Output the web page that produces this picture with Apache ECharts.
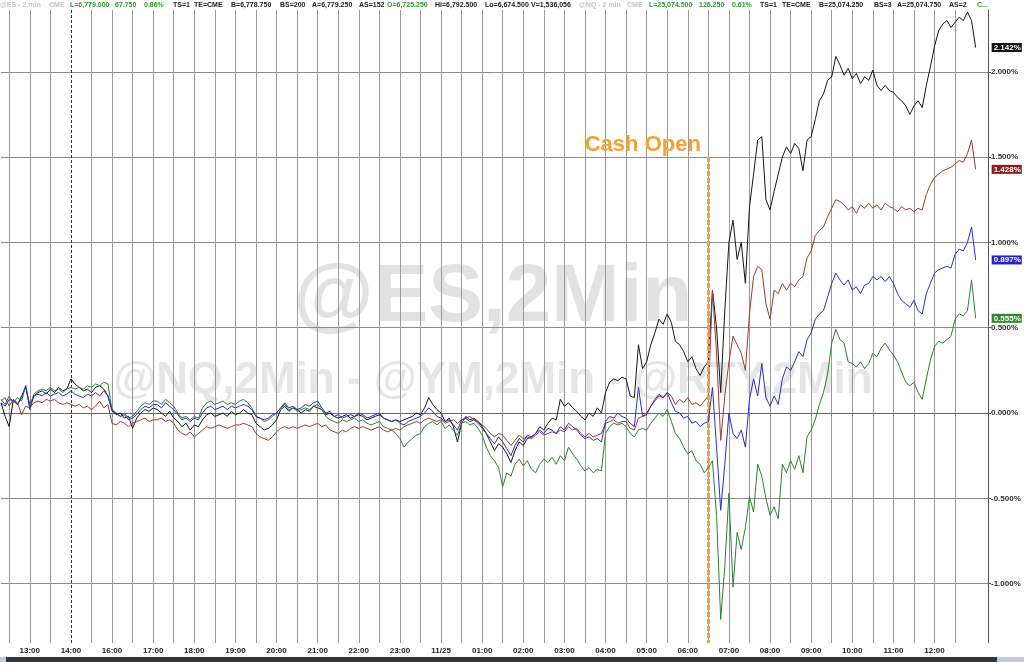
<!DOCTYPE html>
<html><head><meta charset="utf-8">
<script src="https://cdn.jsdelivr.net/npm/echarts@6/dist/echarts.min.js"></script>
<style>html,body{margin:0;padding:0;background:#fff}#c{width:1024px;height:662px}</style>
</head><body><div id="c"></div><script>
// ---- time categories (6-minute steps, session break 14:00-15:00 removed) ----
const sessions = [['11/24','12:18','14:00'],['11/24','15:06','23:54'],['11/25','00:00','13:18']];
const STEP_MIN = 6;
function toMin(t){const p=t.split(':').map(Number);return p[0]*60+p[1];}
function fmt(m){return String(Math.floor(m/60)).padStart(2,'0')+':'+String(m%60).padStart(2,'0');}
const categories = [];
sessions.forEach(([d,s,e])=>{for(let m=toMin(s);m<=toMin(e);m+=STEP_MIN) categories.push(d+' '+fmt(m));});

// ---- tick labels ----
const xTickCats = ['11/24 13:00','11/24 14:00','11/24 16:00','11/24 17:00','11/24 18:00','11/24 19:00','11/24 20:00','11/24 21:00','11/24 22:00','11/24 23:00','11/25 00:00','11/25 01:00','11/25 02:00','11/25 03:00','11/25 04:00','11/25 05:00','11/25 06:00','11/25 07:00','11/25 08:00','11/25 09:00','11/25 10:00','11/25 11:00','11/25 12:00'];
const xTickText = ['13:00','14:00','16:00','17:00','18:00','19:00','20:00','21:00','22:00','23:00','11/25','01:00','02:00','03:00','04:00','05:00','06:00','07:00','08:00','09:00','10:00','11:00','12:00'];
const breakCat = '11/24 14:00';
const gridEndCat = '11/25 12:30';
const cashOpenCat = '11/25 06:30';
const cashOpenTop = 1.5;

// ---- series values (% change) ----
const nqValues = [
0.06,-0.02,-0.08,0.08,0.05,0.1,0.15,0.05,0.1,0.12,0.13,0.11,0.14,0.12,0.15,0.13,0.14,0.2,
0.17,0.15,0.13,0.14,0.12,0.15,0.16,0.14,0.1,0.02,-0.01,0.0,-0.03,-0.02,-0.09,-0.03,0.0,0.02,0.01,0.03,
0.02,0.0,-0.02,0.01,-0.03,-0.05,-0.08,-0.06,-0.1,-0.07,-0.08,-0.04,-0.01,0.0,-0.02,-0.01,0.0,-0.02,0.01,-0.01,
0.0,0.02,0.0,-0.01,-0.06,-0.08,-0.1,-0.09,-0.07,-0.04,0.02,0.04,0.01,0.03,0.02,0.0,0.02,0.01,0.04,0.03,
0.02,-0.01,0.0,-0.02,-0.03,-0.02,-0.01,-0.03,-0.02,-0.01,-0.02,-0.04,-0.03,-0.02,-0.01,-0.03,-0.04,-0.05,-0.04,-0.05,
-0.04,-0.03,-0.02,0.0,-0.01,0.03,0.09,0.05,0.02,0.0,-0.05,-0.03,-0.08,-0.17,-0.06,-0.02,-0.04,-0.03,-0.05,-0.08,
-0.12,-0.17,-0.22,-0.18,-0.2,-0.24,-0.29,-0.22,-0.17,-0.19,-0.15,-0.14,-0.12,-0.08,-0.1,-0.06,-0.03,-0.04,0.08,0.04,
0.06,0.03,0.01,-0.02,-0.04,0.0,-0.02,0.03,0.0,0.12,0.18,0.2,0.19,0.21,0.2,0.1,0.09,0.4,0.26,0.3,
0.4,0.47,0.55,0.52,0.58,0.53,0.42,0.4,0.36,0.3,0.33,0.26,0.22,0.27,
0.3,0.72,0.5,0.12,0.6,1.0,1.13,0.9,1.0,0.76,1.21,1.4,1.6,1.62,1.25,1.19,1.3,1.4,1.5,1.56,
1.52,1.58,1.55,1.42,1.6,1.62,1.72,1.83,1.87,1.95,1.97,2.09,2.04,1.98,2.02,1.96,1.99,1.93,1.97,1.95,
2.01,1.92,1.89,1.92,1.89,1.88,1.85,1.83,1.8,1.75,1.8,1.83,1.79,1.92,2.03,2.15,2.24,2.28,2.3,2.26,
2.29,2.32,2.3,2.35,2.3,2.142];
const esValues = [
0.07,0.09,0.04,0.08,0.06,-0.01,0.04,0.03,0.06,0.07,0.06,0.08,0.07,0.08,0.06,0.05,0.06,0.05,
0.04,0.05,0.03,0.04,0.02,0.04,0.07,0.03,0.05,-0.06,-0.07,-0.05,-0.06,-0.08,-0.06,-0.05,-0.04,-0.03,-0.05,-0.04,
-0.04,-0.03,-0.05,-0.04,-0.06,-0.1,-0.12,-0.13,-0.11,-0.14,-0.12,-0.1,-0.08,-0.09,-0.08,-0.07,-0.08,-0.09,-0.08,-0.07,
-0.07,-0.06,-0.07,-0.08,-0.12,-0.14,-0.15,-0.16,-0.14,-0.11,-0.09,-0.08,-0.09,-0.08,-0.09,-0.08,-0.07,-0.08,-0.07,-0.06,
-0.08,-0.07,-0.1,-0.11,-0.12,-0.1,-0.11,-0.09,-0.08,-0.09,-0.08,-0.09,-0.1,-0.09,-0.08,-0.1,-0.11,-0.1,-0.09,-0.1,
-0.08,-0.07,-0.06,-0.05,-0.06,-0.04,-0.03,-0.04,-0.05,-0.04,-0.06,-0.05,-0.04,-0.06,-0.04,-0.03,-0.02,-0.04,-0.05,-0.07,
-0.09,-0.12,-0.14,-0.12,-0.13,-0.16,-0.19,-0.16,-0.13,-0.15,-0.14,-0.15,-0.13,-0.11,-0.13,-0.12,-0.11,-0.12,-0.1,-0.11,
-0.08,-0.1,-0.09,-0.12,-0.14,-0.12,-0.14,-0.13,-0.12,-0.06,-0.05,-0.04,-0.06,-0.05,-0.05,-0.09,-0.1,-0.03,-0.02,0.0,
0.04,0.07,0.1,0.09,0.12,0.1,0.05,0.08,0.06,0.09,0.05,0.06,0.04,0.07,
0.1,0.72,0.35,-0.16,0.1,0.3,0.45,0.4,0.35,0.25,0.58,0.8,0.86,0.84,0.64,0.55,0.72,0.7,0.76,0.72,
0.76,0.74,0.78,0.8,0.91,0.95,1.04,1.07,1.09,1.15,1.2,1.25,1.24,1.22,1.19,1.21,1.17,1.22,1.2,1.23,
1.2,1.22,1.19,1.23,1.21,1.2,1.18,1.21,1.19,1.2,1.18,1.2,1.19,1.28,1.34,1.38,1.4,1.42,1.43,1.44,
1.46,1.48,1.47,1.52,1.6,1.428];
const ymValues = [
0.06,0.04,0.08,0.07,0.05,0.09,0.16,0.02,0.1,0.11,0.1,0.12,0.1,0.11,0.12,0.1,0.11,0.13,
0.11,0.1,0.09,0.11,0.1,0.12,0.1,0.13,0.1,0.01,0.0,-0.02,-0.01,-0.04,-0.03,-0.01,0.02,0.04,0.03,0.05,
0.05,0.03,0.06,0.04,0.02,-0.01,-0.04,-0.03,-0.05,-0.03,-0.04,0.0,0.03,0.04,0.02,0.03,0.04,0.02,0.04,0.03,
0.04,0.05,0.04,0.02,-0.02,-0.03,-0.04,-0.03,-0.01,0.0,0.03,0.06,0.03,0.04,0.02,0.03,0.05,0.04,0.06,0.07,
0.03,0.0,0.01,-0.02,-0.01,-0.03,-0.02,-0.01,-0.02,0.0,-0.01,-0.03,-0.02,-0.01,0.0,-0.03,-0.04,-0.05,-0.04,-0.06,
-0.07,-0.05,-0.04,-0.03,-0.02,0.0,0.03,0.01,-0.02,-0.03,-0.05,-0.04,-0.07,-0.1,-0.04,-0.03,-0.05,-0.04,-0.06,-0.09,
-0.12,-0.15,-0.18,-0.14,-0.17,-0.21,-0.25,-0.19,-0.15,-0.17,-0.13,-0.14,-0.12,-0.1,-0.12,-0.09,-0.1,-0.12,-0.08,-0.1,
-0.06,-0.08,-0.1,-0.13,-0.15,-0.14,-0.16,-0.15,-0.17,-0.05,-0.02,-0.03,0.0,-0.02,-0.03,-0.06,-0.08,0.15,-0.02,-0.01,
0.04,0.08,0.11,0.09,0.12,0.06,0.01,0.0,-0.03,-0.02,-0.06,-0.05,-0.08,-0.06,
-0.05,0.15,-0.2,-0.57,-0.3,0.0,-0.12,-0.15,-0.1,-0.2,0.08,0.2,0.1,0.29,0.09,0.04,0.1,0.05,0.2,0.27,
0.25,0.3,0.36,0.33,0.43,0.47,0.55,0.58,0.6,0.68,0.76,0.82,0.78,0.75,0.78,0.72,0.74,0.7,0.75,0.76,
0.8,0.78,0.8,0.77,0.8,0.76,0.7,0.66,0.64,0.62,0.66,0.6,0.58,0.7,0.76,0.82,0.84,0.85,0.86,0.85,
0.93,0.96,0.95,1.0,1.09,0.897];
const rtyValues = [
0.08,0.05,0.1,0.06,0.09,0.07,0.16,0.04,0.11,0.13,0.14,0.13,0.15,0.13,0.14,0.12,0.14,0.15,
0.14,0.15,0.14,0.16,0.15,0.17,0.16,0.18,0.17,0.02,0.0,-0.02,0.0,-0.03,-0.02,0.01,0.04,0.06,0.05,0.07,
0.07,0.05,0.08,0.06,0.04,0.0,-0.03,-0.02,-0.04,-0.02,-0.03,0.03,0.06,0.07,0.05,0.06,0.07,0.05,0.06,0.05,
0.07,0.08,0.06,0.03,-0.02,-0.03,-0.05,-0.04,-0.02,0.0,0.03,0.05,0.02,0.03,0.01,0.02,0.03,0.02,0.04,0.05,
0.02,-0.02,-0.04,-0.05,-0.06,-0.04,-0.05,-0.04,-0.03,-0.05,-0.04,-0.06,-0.07,-0.06,-0.05,-0.08,-0.09,-0.1,-0.12,-0.15,
-0.2,-0.17,-0.15,-0.13,-0.12,-0.08,-0.06,-0.05,-0.07,-0.05,-0.09,-0.07,-0.1,-0.13,-0.06,-0.05,-0.07,-0.06,-0.09,-0.13,
-0.2,-0.25,-0.28,-0.32,-0.43,-0.35,-0.37,-0.3,-0.27,-0.31,-0.28,-0.33,-0.35,-0.3,-0.27,-0.29,-0.26,-0.3,-0.25,-0.28,
-0.2,-0.24,-0.27,-0.31,-0.34,-0.32,-0.35,-0.33,-0.34,-0.12,-0.08,-0.06,-0.07,-0.06,-0.08,-0.12,-0.14,-0.1,-0.09,-0.1,
-0.06,-0.03,0.0,-0.02,0.02,-0.05,-0.12,-0.15,-0.2,-0.24,-0.22,-0.28,-0.3,-0.35,
-0.32,-0.28,-0.6,-1.21,-0.9,-0.47,-1.02,-0.7,-0.8,-0.67,-0.49,-0.58,-0.3,-0.37,-0.5,-0.6,-0.55,-0.62,-0.3,-0.35,
-0.28,-0.33,-0.25,-0.35,-0.14,-0.1,-0.04,0.05,0.12,0.23,0.41,0.49,0.43,0.41,0.3,0.29,0.27,0.3,0.26,0.29,
0.35,0.33,0.38,0.41,0.37,0.34,0.3,0.24,0.18,0.16,0.18,0.12,0.08,0.2,0.31,0.39,0.42,0.41,0.43,0.45,
0.55,0.58,0.57,0.6,0.78,0.555];

const Y_MIN = -1.348, Y_MAX = 2.362;
const FONT = '"Liberation Sans", Arial, sans-serif';

// ---- header ----
const headerItems = [
 ['@ES - 2 min','#c4c4c4'],['CME','#c4c4c4'],['L=6,779.000','#2f9a2f'],['67.750','#2f9a2f'],['0.86%','#2f9a2f'],
 ['TS=1','#222'],['TE=CME','#222'],['B=6,778.750','#222'],['BS=200','#222'],['A=6,779.250','#222'],['AS=152','#222'],
 ['O=6,725.250','#2f9a2f'],['Hi=6,792.500','#222'],['Lo=6,674.500','#222'],['V=1,536,056','#222'],
 ['@NQ - 2 min','#c4c4c4'],['CME','#c4c4c4'],['L=25,074.500','#2f9a2f'],['126.250','#2f9a2f'],['0.61%','#2f9a2f'],
 ['TS=1','#222'],['TE=CME','#222'],['B=25,074.250','#222'],['BS=3','#222'],['A=25,074.750','#222'],['AS=2','#222'],['C...','#2f9a2f']];
const headerX = [0,49,70,115,144,173,194,231,280,312,359,387,435,485,531,579,627,649,699,732,760,782,819,874,897,949,977];

const gridIdxMax = categories.indexOf(gridEndCat);
const isGrid = (i, v) => i <= gridIdxMax && /:(00|30)$/.test(v) && v !== breakCat;

const seriesDefs = [
  {name:'NQ', data:nqValues, color:'#161616', box:'#111111'},
  {name:'ES', data:esValues, color:'#9e3a32', box:'#8e1d1d'},
  {name:'RTY', data:rtyValues, color:'#2f7f34', box:'#2e8a2e'},
  {name:'YM', data:ymValues, color:'#2d2dc4', box:'#2424cc'}
];

const series = seriesDefs.map((s, k) => ({
  name: s.name, type:'line', data: s.data, showSymbol:false, symbol:'none',
  lineStyle:{color:s.color, width:1}, itemStyle:{color:s.color},
  silent:true, z: 3 + k,
  endLabel:{show:true, formatter: p => Number(Array.isArray(p.value)?p.value[1]:p.value).toFixed(3)+'%',
    backgroundColor:s.box, color:'#fff', fontSize:8, fontWeight:'bold', fontFamily:FONT,
    padding:[1,1,0,2], lineHeight:8, offset:[8,0]}
}));
series[0].markLine = {silent:true, symbol:['none','none'], label:{show:false}, animation:false,
  lineStyle:{type:[3,2], color:'#333', width:1}, data:[{xAxis:breakCat}]};
series[3].markLine = {silent:true, symbol:['none','none'], label:{show:false}, animation:false,
  lineStyle:{type:[5,2], color:'#F5A232', width:3},
  data:[[{xAxis:cashOpenCat, yAxis:cashOpenTop},{xAxis:cashOpenCat, yAxis:Y_MIN}]]};
series[3].markPoint = {silent:true, animation:false, symbol:'rect', symbolSize:1,
  itemStyle:{color:'rgba(0,0,0,0)'},
  label:{show:true, position:'left', distance:7, offset:[0,-12], formatter:'Cash Open',
    color:'#F5A232', fontSize:22, fontWeight:'bold', fontFamily:FONT},
  data:[{coord:[cashOpenCat, cashOpenTop]}]};

const graphic = [
  {type:'text', x:493, y:298, z:-5, silent:true, style:{text:'@ES,2Min', fill:'#e2e2e2', font:'bold 82px '+FONT, align:'center', verticalAlign:'middle'}},
  {type:'text', x:493, y:381, z:-5, silent:true, style:{text:'@NQ,2Min - @YM,2Min - @RTY,2Min', fill:'#e6e6e6', font:'bold 44px '+FONT, align:'center', verticalAlign:'middle'}},
  {type:'rect', z:10, silent:true, shape:{x:0, y:657, width:1024, height:5}, style:{fill:'#c5cad2'}},
  {type:'rect', z:11, silent:true, shape:{x:6, y:657, width:991, height:5}, style:{fill:'#30353f'}}
].concat(headerItems.map((h, i) => ({type:'text', x:headerX[i], y:5, z:10, silent:true,
  style:{text:h[0], fill:h[1], font:'bold 7px '+FONT, verticalAlign:'middle'}})));

const chart = echarts.init(document.getElementById('c'), null, {renderer:'canvas'});
chart.setOption({
  animation:false,
  backgroundColor:'#ffffff',
  textStyle:{fontFamily:FONT},
  grid:{left:1, right:36, top:10, bottom:19, containLabel:false, outerBoundsMode:'none'},
  xAxis:{type:'category', data:categories, boundaryGap:false, z:2,
    axisLine:{show:true, lineStyle:{color:'#666', width:1}},
    axisTick:{show:true, length:3, interval:isGrid, lineStyle:{color:'#777'}},
    axisLabel:{show:true, margin:4, fontSize:8, fontWeight:'bold', color:'#222', fontFamily:FONT,
      interval:(i, v) => xTickCats.indexOf(v) >= 0,
      formatter:(v) => xTickText[xTickCats.indexOf(v)] || ''},
    splitLine:{show:true, interval:isGrid, lineStyle:{color:'#9a9a9a', width:1}}},
  yAxis:{type:'value', position:'right', min:Y_MIN, max:Y_MAX, minInterval:0.5, maxInterval:0.5, splitNumber:7, z:2,
    axisLine:{show:true, lineStyle:{color:'#555', width:1}},
    axisTick:{show:true, length:3, lineStyle:{color:'#555'}},
    axisLabel:{showMinLabel:false, showMaxLabel:false, margin:3, fontSize:8, fontWeight:'bold', color:'#333', fontFamily:FONT,
      formatter:(v) => v.toFixed(3)+'%'},
    splitLine:{show:true, showMinLine:false, showMaxLine:false, lineStyle:{color:'#8c8c8c', width:1}}},
  graphic: graphic,
  series: series
});
</script></body></html>
